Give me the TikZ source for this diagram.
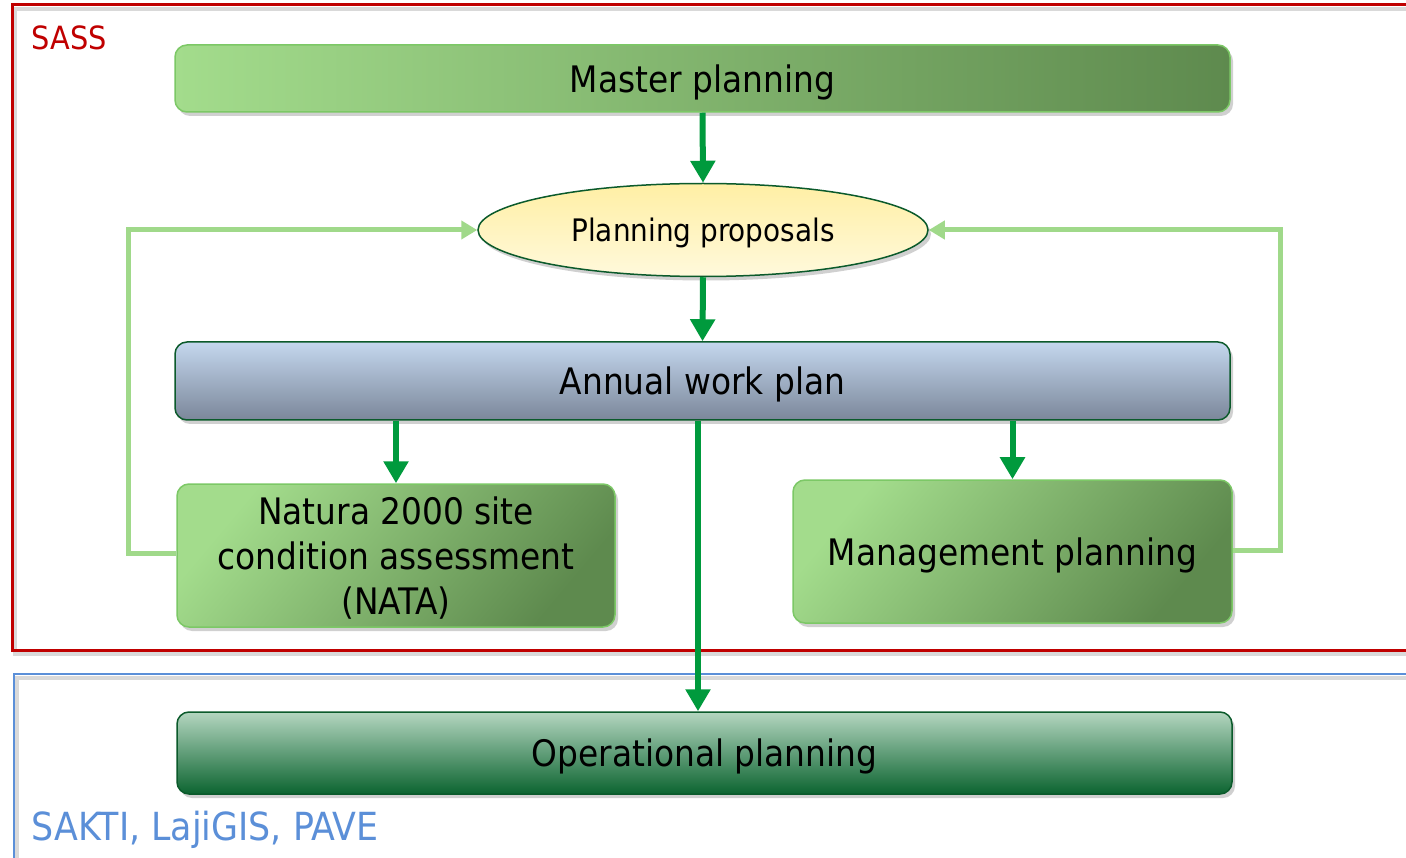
\documentclass[tikz,border=0pt]{standalone}
\usepackage{fontspec}
\setmainfont{DejaVu Sans Condensed}
\usetikzlibrary{shadows,arrows.meta,shapes.geometric}
\definecolor{arrgreen}{HTML}{009A3D}
\definecolor{fbgreen}{HTML}{A0D98A}
\definecolor{boxlight}{HTML}{A3DC8C}
\definecolor{boxdark}{HTML}{5E8A4E}
\definecolor{boxborder}{HTML}{7CC866}
\definecolor{darkborder}{HTML}{0B5A2B}
\definecolor{sassred}{HTML}{C00000}
\definecolor{saktiblue}{HTML}{5B8FD8}
\definecolor{elltop}{HTML}{FFEFA4}
\definecolor{ellbot}{HTML}{FFF9DC}
\tikzset{
  x=1pt,y=-1pt,
  shad/.style={drop shadow={shadow xshift=3pt,shadow yshift=-4pt,opacity=0.3,fill=black!60}},
  bigtext/.style={font=\fontsize{36.5}{45}\selectfont,text depth=0pt},
  greenbox/.style={draw=boxborder,line width=1.5pt,rounded corners=12pt,shad,
    left color=boxlight,right color=boxdark,align=center,bigtext},
  diagbox/.style={greenbox,shading angle=50},
  mainarrow/.style={draw=arrgreen,line width=6pt,-{Triangle[length=22pt,width=24pt]}},
  fbarrow/.style={draw=fbgreen,line width=5pt,-{Triangle[length=16pt,width=18pt]}},
  frameshadow/.style={draw=black,opacity=0.15,line width=4pt},
}
\begin{document}
\begin{tikzpicture}
\useasboundingbox (0,0) rectangle (1406,858);
\clip (0,0) rectangle (1406,858);
\fill[white] (0,0) rectangle (1406,858);
% frames
\draw[frameshadow] (15,9) rectangle (1433,654);
\draw[frameshadow] (17,678) rectangle (1433,884);
\draw[sassred,line width=3pt] (12,5) rectangle (1430,650);
\draw[saktiblue,line width=2.5pt] (14,674) rectangle (1430,880);
\node[anchor=west,text=sassred,font=\fontsize{32}{38}\selectfont] (sass) at (28,38) {SASS};
\node[anchor=west,text=saktiblue,font=\fontsize{38.7}{44}\selectfont] (sakti) at (28,830) {SAKTI, LajiGIS, PAVE};
% boxes
\node[greenbox,minimum width=1055pt,minimum height=67pt] (master) at (702.5,78.5) {Master planning};
\node[draw=darkborder,line width=1.5pt,ellipse,minimum width=450pt,minimum height=93pt,shad,
  top color=elltop,bottom color=ellbot,font=\fontsize{31}{36}\selectfont,text depth=0pt] (prop) at (703,230) {Planning proposals};
\node[draw=darkborder,line width=1.5pt,rounded corners=12pt,shad,minimum width=1055pt,minimum height=78pt,
  top color={rgb,255:red,196;green,215;blue,238},bottom color={rgb,255:red,123;green,135;blue,154},
  bigtext] (annual) at (702.5,381) {Annual work plan};
\node[diagbox,minimum width=438pt,minimum height=143pt] (natura) at (396,555.5) {Natura 2000 site\\condition assessment\\(NATA)};
\node[diagbox,minimum width=439pt,minimum height=143pt] (mgmt) at (1012.5,551.5) {Management planning};
\node[draw=darkborder,line width=1.5pt,rounded corners=12pt,shad,minimum width=1055pt,minimum height=82pt,
  top color={rgb,255:red,180;green,214;blue,192},bottom color={rgb,255:red,12;green,100;blue,48},
  bigtext] (oper) at (704.5,753) {Operational planning};
% main arrows
\draw[mainarrow] (master.south) -- (prop.north);
\draw[mainarrow] (prop.south) -- (annual.north);
\draw[mainarrow] (annual.south -| natura.north) -- (natura.north);
\draw[mainarrow] (annual.south -| mgmt.north) -- (mgmt.north);
\draw[mainarrow] ([xshift=-4.5pt]annual.south) -- ([xshift=-6.5pt]oper.north);
% feedback
\coordinate (fl) at (128,230);
\coordinate (fr) at (1280,230);
\draw[fbarrow] (natura.west |- 0,553) -| (fl) -- (prop.west);
\draw[fbarrow] (mgmt.east |- 0,550) -| (fr) -- (prop.east);
\end{tikzpicture}
\end{document}
